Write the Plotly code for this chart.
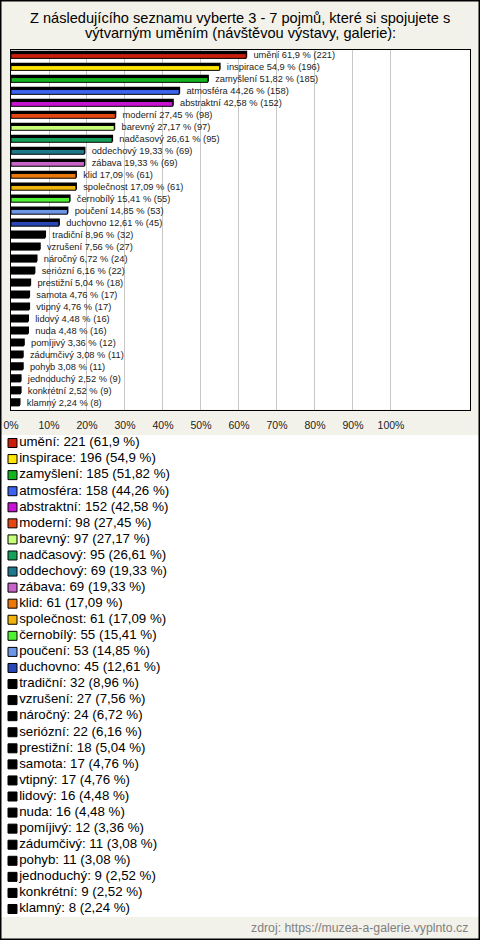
import plotly.graph_objects as go

categories = ["umění", "inspirace", "zamyšlení", "atmosféra", "abstraktní", "moderní",
              "barevný", "nadčasový", "oddechový", "zábava", "klid", "společnost",
              "černobílý", "poučení", "duchovno", "tradiční", "vzrušení", "náročný",
              "seriózní", "prestižní", "samota", "vtipný", "lidový", "nuda", "pomíjivý",
              "zádumčivý", "pohyb", "jednoduchý", "konkrétní", "klamný"]
counts = [221, 196, 185, 158, 152, 98, 97, 95, 69, 69, 61, 61, 55, 53, 45, 32, 27, 24,
          22, 18, 17, 17, 16, 16, 12, 11, 11, 9, 9, 8]
percents = [61.9, 54.9, 51.82, 44.26, 42.58, 27.45, 27.17, 26.61, 19.33, 19.33, 17.09,
            17.09, 15.41, 14.85, 12.61, 8.96, 7.56, 6.72, 6.16, 5.04, 4.76, 4.76, 4.48,
            4.48, 3.36, 3.08, 3.08, 2.52, 2.52, 2.24]
colors = ["#c81e0a", "#ffe600", "#14b41e", "#3c64f0", "#c814d2", "#e64614", "#c8ff78",
          "#14a05a", "#1e788c", "#c864c8", "#eb780a", "#f0b40a", "#50f032", "#6e96e6",
          "#2846b4"] + ["#000000"] * 15
tick_values = [0, 10, 20, 30, 40, 50, 60, 70, 80, 90, 100]
tick_labels = [f"{v}%" for v in tick_values]

title_lines = ["Z následujícího seznamu vyberte 3 - 7 pojmů, které si spojujete s",
               "výtvarným uměním (návštěvou výstavy, galerie):"]
source_text = "zdroj: https://muzea-a-galerie.vyplnto.cz"


def fmt(v):
    return str(v).replace(".", ",")


bar_labels = [f"{c} {fmt(p)} % ({n})" for c, p, n in zip(categories, percents, counts)]
legend_labels = [f"{c}: {n} ({fmt(p)} %)" for c, p, n in zip(categories, percents, counts)]

W, H = 480, 940
n = len(categories)
FONT = "Liberation Sans, Arial, sans-serif"

fig = go.Figure()

# 3D-ish shadow bars
fig.add_trace(go.Bar(
    x=percents, y=categories, orientation="h",
    marker=dict(color="#000000", line=dict(color="#000000", width=2)),
    width=0.4, offset=-0.35, hoverinfo="skip", showlegend=False,
    xaxis="x", yaxis="y",
))
# face bars
fig.add_trace(go.Bar(
    x=percents, y=categories, orientation="h",
    marker=dict(color=colors, line=dict(color="#000000", width=1)),
    width=0.4, offset=-0.2,
    hoverinfo="skip", showlegend=False, xaxis="x", yaxis="y",
))
# value labels next to the bars (invisible anchor markers give the gap)
fig.add_trace(go.Scatter(
    x=percents, y=categories, mode="markers+text",
    text=bar_labels, textposition="middle right",
    marker=dict(size=10, color="rgba(0,0,0,0)"),
    textfont=dict(size=9.3, color="#222222", family=FONT),
    hoverinfo="skip", showlegend=False, xaxis="x", yaxis="y",
))

# custom legend below the chart
fig.add_trace(go.Scatter(
    x=[0] * n, y=categories, mode="markers+text",
    marker=dict(symbol="square", size=9, color=colors, line=dict(color="#000000", width=1)),
    text=legend_labels, textposition="middle right",
    textfont=dict(size=13.3, color="#000000", family=FONT),
    hoverinfo="skip", showlegend=False, xaxis="x2", yaxis="y2", cliponaxis=False,
))

plot_top, plot_bottom = 50, 409.5
first_row, last_row = 443, 909
leg_row = (last_row - first_row) / (n - 1)
leg_top = first_row - leg_row / 2
leg_bottom = last_row + leg_row / 2

fig.update_layout(
    width=W, height=H, autosize=False,
    margin=dict(l=0, r=0, t=0, b=0, pad=0, autoexpand=False),
    paper_bgcolor="#f3f2ea",
    plot_bgcolor="#ffffff",
    barmode="overlay",
    font=dict(family=FONT, color="#000000"),
    xaxis=dict(
        domain=[11 / W, 470 / W], range=[0, 120.8], automargin=False,
        tickvals=tick_values, ticktext=tick_labels,
        tickfont=dict(size=10.5, color="#222222"),
        showgrid=True, gridcolor="#c8c8c8", gridwidth=1, zeroline=False,
        showline=True, linecolor="#000000", linewidth=1, mirror=True,
        ticks="", ticklabelstandoff=6, fixedrange=True,
    ),
    yaxis=dict(
        domain=[1 - plot_bottom / H, 1 - plot_top / H], automargin=False,
        categoryorder="array", categoryarray=categories,
        range=[n - 0.5, -0.5],
        showticklabels=False, showgrid=False, zeroline=False,
        showline=True, linecolor="#000000", linewidth=1, mirror=True, ticks="",
    ),
    xaxis2=dict(domain=[0, 1], range=[-12.5, W - 12.5], visible=False, automargin=False),
    yaxis2=dict(
        domain=[1 - leg_bottom / H, 1 - leg_top / H], automargin=False,
        categoryorder="array", categoryarray=categories,
        range=[n - 0.5, -0.5], visible=False,
    ),
    showlegend=False,
    annotations=[
        dict(text=title_lines[0], xref="paper", yref="paper", x=0.5, y=1 - 18 / H,
             xanchor="center", yanchor="middle", showarrow=False,
             font=dict(size=14.6, color="#000000")),
        dict(text=title_lines[1], xref="paper", yref="paper", x=0.5, y=1 - 33.5 / H,
             xanchor="center", yanchor="middle", showarrow=False,
             font=dict(size=14.6, color="#000000")),
        dict(text=source_text, xref="paper", yref="paper", x=470 / W, y=1 - 928 / H,
             xanchor="right", yanchor="middle", showarrow=False,
             font=dict(size=12.3, color="#808080")),
    ],
    shapes=[
        dict(type="rect", xref="paper", yref="paper", x0=0.5 / W, x1=1 - 0.5 / W,
             y0=0.5 / H, y1=1 - 0.5 / H, line=dict(color="#000000", width=2),
             layer="above"),
    ],
)

post = ("document.body.style.margin='0';document.body.style.padding='0';"
        "document.body.style.overflow='hidden';"
        "Plotly.relayout('{plot_id}', {width: 480, height: 940});")

fig.write_html("out.html", config={"responsive": False, "displayModeBar": False},
               post_script=post)
